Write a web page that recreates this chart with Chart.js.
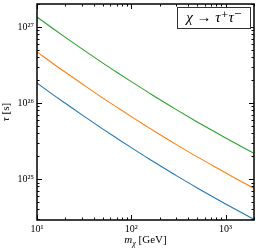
<!DOCTYPE html>
<html>
<head>
<meta charset="utf-8">
<script src="https://cdn.jsdelivr.net/npm/chart.js@4.4.1/dist/chart.umd.min.js"></script>
<style>
  html,body{margin:0;padding:0;background:#fff;}
  #wrap{width:259px;height:250px;}
</style>
</head>
<body>
<div id="wrap"><canvas id="tauChart" width="259" height="250"></canvas></div>
<script>
// m_chi in GeV
const masses = [10,15,20,30,50,70,100,150,200,300,500,700,1000,1500,2000];
// lifetime bounds tau [s]
const tauLow  = [1.83e26,1.27e26,9.91e25,6.98e25,4.54e25,3.45e25,2.59e25,1.88e25,1.51e25,1.11e25,7.66e24,6.04e24,4.71e24,3.58e24,2.96e24];
const tauMid  = [4.69e26,3.26e26,2.54e26,1.79e26,1.16e26,8.83e25,6.62e25,4.82e25,3.86e25,2.84e25,1.96e25,1.55e25,1.21e25,9.16e24,7.59e24];
const tauHigh = [1.35e27,9.38e26,7.29e26,5.14e26,3.34e26,2.54e26,1.91e26,1.39e26,1.11e26,8.18e25,5.64e25,4.45e25,3.47e25,2.64e25,2.18e25];
const seriesColors = ['#1f77b4','#ff7f0e','#2ca02c'];
const xTickVals = [10,100,1000];
const xTickText = {10:'10\u00b9',100:'10\u00b2',1000:'10\u00b3'};
const yTickVals = [1e25,1e26,1e27];
const yTickText = {1e25:'10\u00b2\u2075',1e26:'10\u00b2\u2076',1e27:'10\u00b2\u2077'};

const serif = "'Liberation Serif', 'DejaVu Serif', serif";

function toPts(arr){ return masses.map((m,i)=>({x:m,y:arr[i]})); }

// inward ticks, frame, legend box and axis titles
const frameTicks = {
  id:'frameTicks',
  afterDraw(chart){
    const {ctx, chartArea:{left,right,top,bottom}, scales:{x,y}} = chart;
    ctx.save();
    ctx.strokeStyle='#000'; ctx.lineWidth=1;
    ctx.beginPath();
    for(let dec=10; dec<=1000; dec*=10){
      for(let k=1;k<10;k++){
        const v=dec*k; if(v<x.min||v>x.max) continue;
        const px=Math.round(x.getPixelForValue(v))+0.5, len=k===1?5:2.5;
        ctx.moveTo(px,bottom); ctx.lineTo(px,bottom-len);
        ctx.moveTo(px,top); ctx.lineTo(px,top+len);
      }
    }
    for(let dec=1e24; dec<=1e27; dec*=10){
      for(let k=1;k<10;k++){
        const v=dec*k; if(v<y.min||v>y.max) continue;
        const py=Math.round(y.getPixelForValue(v))+0.5, len=k===1?5:2.5;
        ctx.moveTo(left,py); ctx.lineTo(left+len,py);
        ctx.moveTo(right,py); ctx.lineTo(right-len,py);
      }
    }
    ctx.stroke();
    ctx.lineWidth=1.5;
    ctx.strokeRect(left,top,right-left,bottom-top);

    // legend box
    ctx.lineWidth=1; ctx.strokeStyle='#333';
    ctx.fillStyle='#fff';
    ctx.fillRect(177.5,7.5,73,21);
    ctx.strokeRect(177.5,7.5,73,21);
    ctx.fillStyle='#000';
    ctx.font="italic 15px "+serif;
    ctx.textAlign='center'; ctx.textBaseline='middle';
    ctx.fillText('\u03c7 \u2192 \u03c4\u207a\u03c4\u207b',214,18.5);

    // x title
    ctx.textBaseline='alphabetic'; ctx.textAlign='left';
    const parts=[['italic 11px','m',0],['italic 8px','\u03c7',2.5],['11px',' [GeV]',0]];
    let w=0;
    parts.forEach(p=>{ctx.font=p[0]+' '+serif; w+=ctx.measureText(p[1]).width;});
    let cx=(left+right)/2-w/2;
    parts.forEach(p=>{ctx.font=p[0]+' '+serif; ctx.fillText(p[1],cx,243+p[2]); cx+=ctx.measureText(p[1]).width;});

    // y title
    ctx.translate(9,(top+bottom)/2);
    ctx.rotate(-Math.PI/2);
    const yp=[['italic 11px','\u03c4'],['11px',' [s]']];
    w=0; yp.forEach(p=>{ctx.font=p[0]+' '+serif; w+=ctx.measureText(p[1]).width;});
    cx=-w/2;
    yp.forEach(p=>{ctx.font=p[0]+' '+serif; ctx.fillText(p[1],cx,0); cx+=ctx.measureText(p[1]).width;});
    ctx.restore();
  }
};

new Chart(document.getElementById('tauChart'),{
  type:'line',
  data:{
    datasets:[tauLow,tauMid,tauHigh].map((arr,i)=>({
      data:toPts(arr), borderColor:seriesColors[i], borderWidth:1.1,
      pointRadius:0, fill:false, cubicInterpolationMode:'monotone'
    }))
  },
  options:{
    responsive:false, animation:false, events:[],
    layout:{padding:{left:0,top:4,right:5,bottom:0}},
    plugins:{legend:{display:false},tooltip:{enabled:false}},
    scales:{
      x:{
        type:'logarithmic', min:10, max:2000,
        grid:{display:false, drawTicks:false, tickLength:0}, border:{display:false},
        afterBuildTicks:s=>{ s.ticks=xTickVals.map(v=>({value:v})); },
        afterFit:s=>{ s.height=30; s.paddingLeft=0; s.paddingRight=0; },
        ticks:{autoSkip:false, maxRotation:0, padding:3, color:'#000',
          font:{family:serif,size:10}, callback:v=>xTickText[v]||''}
      },
      y:{
        type:'logarithmic', min:2.9e24, max:2.0e27,
        grid:{display:false, drawTicks:false, tickLength:0}, border:{display:false},
        afterBuildTicks:s=>{ s.ticks=yTickVals.map(v=>({value:v})); },
        afterFit:s=>{ s.width=37; s.paddingTop=0; s.paddingBottom=0; },
        ticks:{autoSkip:false, padding:3, color:'#000',
          font:{family:serif,size:10}, callback:v=>yTickText[v]||''}
      }
    }
  },
  plugins:[frameTicks]
});
</script>
</body>
</html>
